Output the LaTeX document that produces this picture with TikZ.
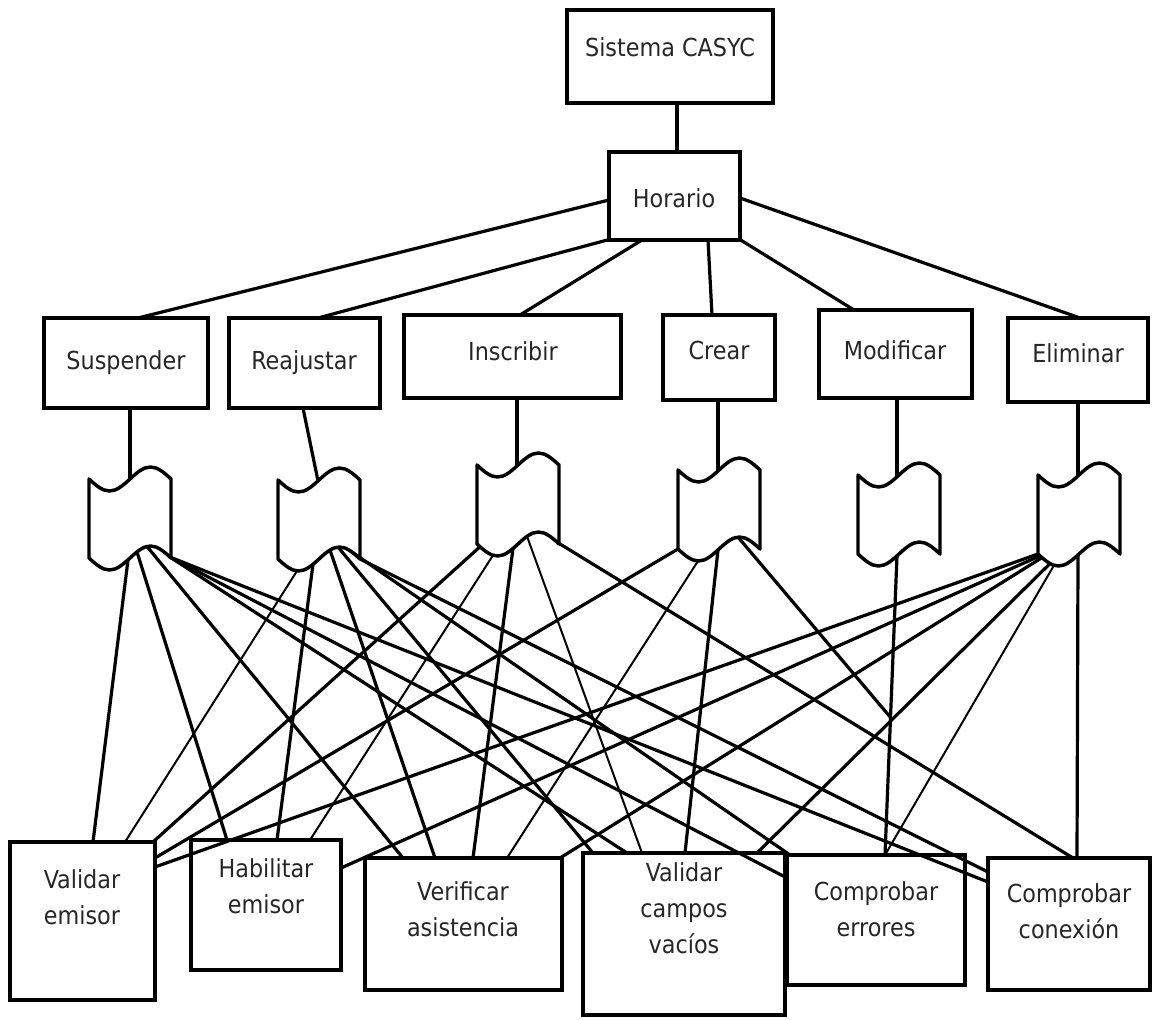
\documentclass[tikz,border=0pt]{standalone}
\usepackage{fontspec}
\setmainfont{DejaVu Sans Condensed}
\usetikzlibrary{calc,fit}

% outline of a punched-tape symbol fitted to a named frame node
\newcommand\tapeoutline[1]{%
  \draw[tapeline] (#1.north west) sin ++(20.5,12) cos ++(20.5,-12) sin ++(20.5,-12) cos ++(20.5,12)
    -- (#1.south east) sin ++(-20.5,-12) cos ++(-20.5,12) sin ++(-20.5,12) cos ++(-20.5,-12) -- cycle;}

\begin{document}
\begin{tikzpicture}[x=0.75pt,y=-0.75pt,
  box/.style={draw, line width=3pt, inner sep=0pt, outer sep=0pt},
  frame/.style={inner sep=0pt, outer sep=0pt},
  lbl/.style={font=\fontsize{18.6}{27}\selectfont, text=black!85, align=center, inner sep=0pt},
  con/.style={line width=2.4pt},
  tapeline/.style={line width=2.6pt, line join=round}]
\useasboundingbox (0,0) rectangle (1160,1020);

% upper levels
\node[box, fit={(567,10) (773,103)}] (sis) {};
\node[box, fit={(609,152) (740,240)}] (hor) {};
\node[box, fit={(44,318) (208,408)}] (sus) {};
\node[box, fit={(229,318) (380,408)}] (rea) {};
\node[box, fit={(404,315) (621,398)}] (ins) {};
\node[box, fit={(663,315) (775,400)}] (cre) {};
\node[box, fit={(819,310) (972,398)}] (mod) {};
\node[box, fit={(1008,318) (1148,402)}] (eli) {};

% tape symbols
\node[frame, fit={(89,479) (171,558)}] (d1) {};
\node[frame, fit={(278,480) (360,559)}] (d2) {};
\node[frame, fit={(477,465) (559,544)}] (d3) {};
\node[frame, fit={(678,470) (760,549)}] (d4) {};
\node[frame, fit={(858,475) (940,554)}] (d5) {};
\node[frame, fit={(1038,475) (1120,554)}] (d6) {};
\foreach \t in {d1,d2,d3,d4,d5,d6} {\tapeoutline{\t}}

% lower level
\node[box, fit={(10,842) (155,1000)}] (be1) {};
\node[box, fit={(191,840) (341,970)}] (be2) {};
\node[box, fit={(365,858) (562,990)}] (be3) {};
\node[box, fit={(583,853) (785,1015)}] (be4) {};
\node[box, fit={(787,855) (965,985)}] (be5) {};
\node[box, fit={(988,858) (1150,990)}] (be6) {};

% labels
\node[lbl] (lsis) at (670,47) {Sistema CASYC};
\node[lbl] (lhor) at (674,198) {Horario};
\node[lbl] (lsus) at (126,363) {Suspender};
\node[lbl] (lrea) at (304,363) {Reajustar};
\node[lbl] (lins) at (513,351) {Inscribir};
\node[lbl] (lcre) at (719,350) {Crear};
\node[lbl] (lmod) at (895,350) {Modificar};
\node[lbl] (leli) at (1078,353) {Eliminar};
\node[lbl] (lbe1) at (82,897) {Validar\\emisor};
\node[lbl] (lbe2) at (266,886) {Habilitar\\emisor};
\node[lbl] (lbe3) at (463,909) {Verificar\\asistencia};
\node[lbl] (lbe4) at (684,908) {Validar\\campos\\vacíos};
\node[lbl] (lbe5) at (876,909) {Comprobar\\errores};
\node[lbl] (lbe6) at (1069,911) {Comprobar\\conexión};

% tree links
\draw[con] ($(sis.north west)+(110,93)$) -- ($(hor.north west)+(68,0)$);
\draw[con] ($(hor.north west)+(0,48)$) -- ($(sus.north west)+(94,0)$);
\draw[con] ($(hor.north west)+(2,87)$) -- ($(rea.north west)+(89,0)$);
\draw[con] ($(hor.north west)+(33,88)$) -- ($(ins.north west)+(116,0)$);
\draw[con] ($(hor.north west)+(99,88)$) -- ($(cre.north west)+(49,0)$);
\draw[con] ($(hor.north west)+(130,87)$) -- ($(mod.north west)+(35,0)$);
\draw[con] ($(hor.north west)+(131,46)$) -- ($(eli.north west)+(72,0)$);

% operations to their tapes
\foreach \op/\dx/\dy/\tp/\xr in {sus/86/90/d1/41, rea/74/90/d2/40, ins/113/83/d3/40,
    cre/55/85/d4/40, mod/78/88/d5/39, eli/70/84/d6/40}
  \draw[con] ($(\op.north west)+(\dx,\dy)$) -- ($(\tp.north west)+(\xr,{12*sin(4.3902*\xr)})$);

% tapes to checks
\foreach \src/\xr/\dst/\ex/\ey/\w in {
  d1/39/be1/83/0/2.4, d1/48/be2/36/0/2.4, d1/58/be3/38/0/2.4,
  d1/81/be4/44/0/2.4, d1/81/be5/0/23/2.4, d1/81/be6/0/24/2.4,
  d2/19/be1/115/0/1.5, d2/35/be2/86/0/2.4, d2/52/be3/70/0/2.4,
  d2/60/be4/10/0/2.4, d2/72/be5/3/0/2.4, d2/82/be6/0/14/2.4,
  d3/3/be1/143/0/2.4, d3/16/be2/119/0/1.5, d3/36/be3/108/0/2.4,
  d3/50/be4/59/0/1.5, d3/80/be6/85/0/2.4,
  d4/0/be1/145/16/2.4, d4/20/be3/142/0/1.5, d4/40/be4/102/0/2.4,
  d5/39/be5/98/0/2.4,
  d6/0/be1/145/25/2.4, d6/2/be2/150/28/2.4, d6/4/be3/195/0/2.4,
  d6/12/be4/174/0/2.4, d6/16/be5/98/0/1.5, d6/40/be6/89/0/2.4}
  \draw[line width=\w pt] ($(\src.south west)+(\xr,{12*sin(4.3902*\xr)})$) -- ($(\dst.north west)+(\ex,\ey)$);

% branch from the Crear tape joining the Modificar line
\coordinate (m5a) at ($(d5.south west)+(39,{12*sin(4.3902*39)})$);
\coordinate (m5b) at ($(be5.north west)+(98,0)$);
\coordinate (join) at ($(m5a)!0.54!(m5b)$);
\draw[con] ($(d4.south west)+(60,{12*sin(4.3902*60)})$) -- (join);
\end{tikzpicture}
\end{document}
